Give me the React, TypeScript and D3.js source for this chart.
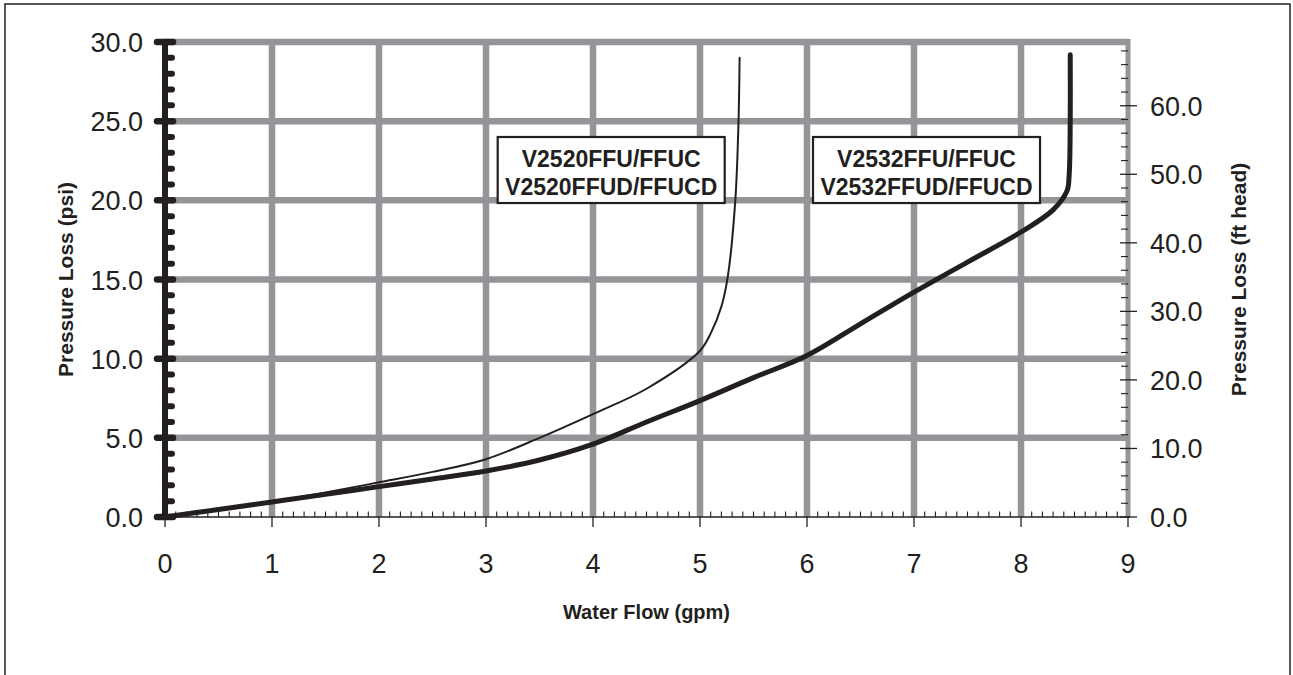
import React from 'react';
import * as d3 from 'd3';

// flow (gpm) vs pressure loss (psi)
const flow2520 = [0, 0.5, 1, 1.5, 2, 2.5, 3, 3.5, 4, 4.5, 5, 5.1, 5.2, 5.26, 5.33, 5.36, 5.37];
const psi2520 = [0, 0.45, 0.97, 1.55, 2.19, 2.85, 3.65, 5.0, 6.5, 8.1, 10.5, 11.6, 13.3, 15.2, 20.0, 25.0, 29.0];

const flow2532 = [0, 0.5, 1, 1.5, 2, 2.5, 3, 3.5, 4, 4.5, 5, 5.5, 6, 6.5, 7, 7.5, 8, 8.3, 8.43, 8.45, 8.46, 8.46];
const psi2532 = [0, 0.47, 0.95, 1.43, 1.92, 2.4, 2.9, 3.6, 4.6, 6.0, 7.35, 8.8, 10.2, 12.2, 14.2, 16.1, 18.0, 19.4, 20.6, 21.6, 25.0, 29.2];

const flowTicks = [0, 1, 2, 3, 4, 5, 6, 7, 8, 9];
const psiTicks = [0, 5, 10, 15, 20, 25, 30];
const ftTicks = [0, 10, 20, 30, 40, 50, 60];

const labels2520 = ['V2520FFU/FFUC', 'V2520FFUD/FFUCD'];
const labels2532 = ['V2532FFU/FFUC', 'V2532FFUD/FFUCD'];

const PSI_TO_FT = 2.31;

const W = 1293;
const H = 675;
const ink = '#231f20';
const gridGray = '#939598';
const font = '"Liberation Sans", Arial, Helvetica, sans-serif';

export default function App() {
  const x = d3.scaleLinear().domain([0, 9]).range([165, 1128]);
  const y = d3.scaleLinear().domain([0, 30]).range([517, 42]);
  const yFt = d3.scaleLinear().domain([0, 30 * PSI_TO_FT]).range([517, 42]);

  const line = d3.line<[number, number]>()
    .x((d) => x(d[0]))
    .y((d) => y(d[1]))
    .curve(d3.curveCatmullRom.alpha(0.5));

  const pts2520 = flow2520.map((f, i) => [f, psi2520[i]] as [number, number]);
  const pts2532 = flow2532.map((f, i) => [f, psi2532[i]] as [number, number]);

  const minorFlow = d3.range(1, 90).filter((i) => i % 10 !== 0).map((i) => i / 10);
  const minorPsi = d3.range(1, 30).filter((i) => i % 5 !== 0);
  const minorFt = d3.range(2, 70, 2).filter((i) => i % 10 !== 0);

  const x0 = x(0);
  const x9 = x(9);

  const box = (cx: number, lines: string[]) => {
    const left = x(cx) - 113.5;
    return (
      <g>
        <rect x={left} y={y(24)} width={227} height={y(19.83) - y(24)}
          fill="#fff" stroke={ink} strokeWidth={2.2} />
        {lines.map((t, i) => (
          <text key={t} x={x(cx)} y={y(24) + 30 + i * 27.5} textAnchor="middle"
            fontFamily={font} fontWeight="bold" fontSize={23} fill={ink}>{t}</text>
        ))}
      </g>
    );
  };

  return (
    <svg width={W} height={H} style={{ position: 'absolute', left: 0, top: 0, background: '#fff' }}>
      <rect x={5} y={4} width={1285} height={700} fill="#fff" stroke={ink} strokeWidth={1.5} />

      {/* grid */}
      {psiTicks.filter((p) => p > 0).map((p) => (
        <line key={'h' + p} x1={x0} x2={x9} y1={y(p)} y2={y(p)} stroke={gridGray} strokeWidth={6.5} />
      ))}
      {flowTicks.filter((f) => f > 0 && f < 9).map((f) => (
        <line key={'v' + f} x1={x(f)} x2={x(f)} y1={y(30) - 3} y2={y(0)} stroke={gridGray} strokeWidth={6.5} />
      ))}
      <line x1={x9} x2={x9} y1={y(30) - 3} y2={y(0)} stroke={gridGray} strokeWidth={5} />

      {/* bottom axis */}
      <line x1={x0} x2={x9 + 2} y1={y(0)} y2={y(0)} stroke={ink} strokeWidth={1.3} />
      {minorFlow.map((f) => (
        <line key={'mf' + f} x1={x(f)} x2={x(f)} y1={y(0) - 5.5} y2={y(0)} stroke={ink} strokeWidth={1.1} />
      ))}
      {flowTicks.map((f) => (
        <g key={'tf' + f}>
          <line x1={x(f)} x2={x(f)} y1={y(0)} y2={y(0) + 10} stroke={ink} strokeWidth={1.3} />
          <text x={x(f)} y={573} textAnchor="middle" fontFamily={font} fontSize={27} fill={ink}>{f}</text>
        </g>
      ))}
      <text x={(x0 + x9) / 2} y={619} textAnchor="middle" fontFamily={font} fontWeight="bold" fontSize={20} fill={ink}>
        Water Flow (gpm)
      </text>

      {/* right axis (ft head) */}
      {minorFt.map((f) => (
        <line key={'mft' + f} x1={x9 - 7} x2={x9} y1={yFt(f)} y2={yFt(f)} stroke={ink} strokeWidth={1.1} />
      ))}
      {ftTicks.map((f) => (
        <g key={'tft' + f}>
          <line x1={x9 - 8} x2={x9 + 9} y1={yFt(f)} y2={yFt(f)} stroke={ink} strokeWidth={1.3} />
          <text x={1150} y={yFt(f) + 10} fontFamily={font} fontSize={27} fill={ink}>{f.toFixed(1)}</text>
        </g>
      ))}
      <text transform={`translate(1246,${(y(0) + y(30)) / 2}) rotate(-90)`} textAnchor="middle"
        fontFamily={font} fontWeight="bold" fontSize={21} fill={ink}>
        Pressure Loss (ft head)
      </text>

      {/* left axis (psi) */}
      <line x1={x0} x2={x0} y1={y(30)} y2={y(0)} stroke={ink} strokeWidth={6} />
      {minorPsi.map((p) => (
        <line key={'mp' + p} x1={x0} x2={x0 + 7} y1={y(p)} y2={y(p)} stroke={ink} strokeWidth={6} strokeLinecap="round" />
      ))}
      {psiTicks.map((p) => (
        <g key={'tp' + p}>
          <line x1={x0 - 8} x2={x0 + 8} y1={y(p)} y2={y(p)} stroke={ink} strokeWidth={6.5} strokeLinecap="round" />
          <text x={143} y={y(p) + 10} textAnchor="end" fontFamily={font} fontSize={27} fill={ink}>{p.toFixed(1)}</text>
        </g>
      ))}
      <text transform={`translate(73,${(y(0) + y(30)) / 2}) rotate(-90)`} textAnchor="middle"
        fontFamily={font} fontWeight="bold" fontSize={21} fill={ink}>
        Pressure Loss (psi)
      </text>

      {/* curves */}
      <path d={line(pts2520) ?? ''} fill="none" stroke={ink} strokeWidth={2} strokeLinecap="round" />
      <path d={line(pts2532) ?? ''} fill="none" stroke={ink} strokeWidth={5} strokeLinecap="round" strokeLinejoin="round" />

      {box(4.17, labels2520)}
      {box(7.117, labels2532)}
    </svg>
  );
}
